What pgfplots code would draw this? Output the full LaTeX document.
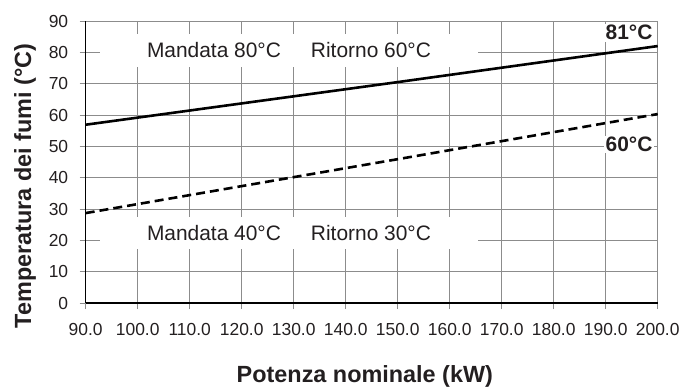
\documentclass[border=0pt]{standalone}
\usepackage{pgfplots}
\pgfplotsset{compat=1.18}
\usepackage{fontspec}
\setmainfont{Liberation Sans}
\definecolor{txt}{RGB}{35,31,32}
\definecolor{gridc}{RGB}{140,140,140}
\begin{document}
\begin{tikzpicture}
\begin{axis}[
  at={(0,0)}, anchor=south west,
  scale only axis, width=572bp, height=282bp,
  xmin=90, xmax=200, ymin=0, ymax=90,
  xtick={90,100,...,200}, ytick={0,10,...,90},
  axis x line*=bottom, axis y line*=left,
  axis line style={black, line width=1.3bp, -},
  grid=major, grid style={gridc, line width=0.7bp},
  tick align=outside, major tick length=6bp,
  tick style={gridc, line width=0.7bp},
  /pgf/number format/assume math mode=true,
  xticklabel={\pgfmathprintnumber[fixed,fixed zerofill,precision=1]{\tick}},
  yticklabel={\pgfmathprintnumber[fixed,precision=0]{\tick}},
  tick label style={font=\fontsize{17.5}{20}\selectfont, text=txt},
  xticklabel style={anchor=north, yshift=-11bp},
  yticklabel style={anchor=east, xshift=-8bp},
  xlabel={Potenza nominale (kW)},
  ylabel={Temperatura dei fumi (°C)},
  label style={font=\fontsize{23.5}{26}\selectfont\bfseries, text=txt},
  xlabel style={at={(axis description cs:0.488,-0.262)}, anchor=center},
  ylabel style={at={(axis description cs:-0.106,0.415)}, anchor=center, rotate=0},
  clip=false,
]
\addplot[black, line width=2.6bp] coordinates {(90,56.9) (150,70.5) (200,82.0)};
\addplot[black, line width=2.6bp, dash pattern=on 9bp off 5bp] coordinates {(90,28.7) (150,45.9) (200,60.3)};
\node[fill=white, minimum width=378bp, minimum height=33bp, inner sep=0pt, text=txt, font=\fontsize{21}{24}\selectfont]
  at (axis cs:129.1,80.6) {Mandata 80°C\hspace{30bp}Ritorno 60°C};
\node[fill=white, minimum width=378bp, minimum height=32bp, inner sep=0pt, text=txt, font=\fontsize{21}{24}\selectfont]
  at (axis cs:129.1,22.3) {Mandata 40°C\hspace{30bp}Ritorno 30°C};
\node[fill=white, inner sep=1.5bp, text=txt, font=\fontsize{21}{24}\selectfont\bfseries]
  at (axis cs:194.5,86.3) {81°C};
\node[fill=white, inner sep=1.5bp, text=txt, font=\fontsize{21}{24}\selectfont\bfseries]
  at (axis cs:194.5,50.6) {60°C};
\end{axis}
\pgfresetboundingbox
\useasboundingbox (-85.7bp,-86bp) rectangle (598.3bp,303bp);
\end{tikzpicture}
\end{document}
